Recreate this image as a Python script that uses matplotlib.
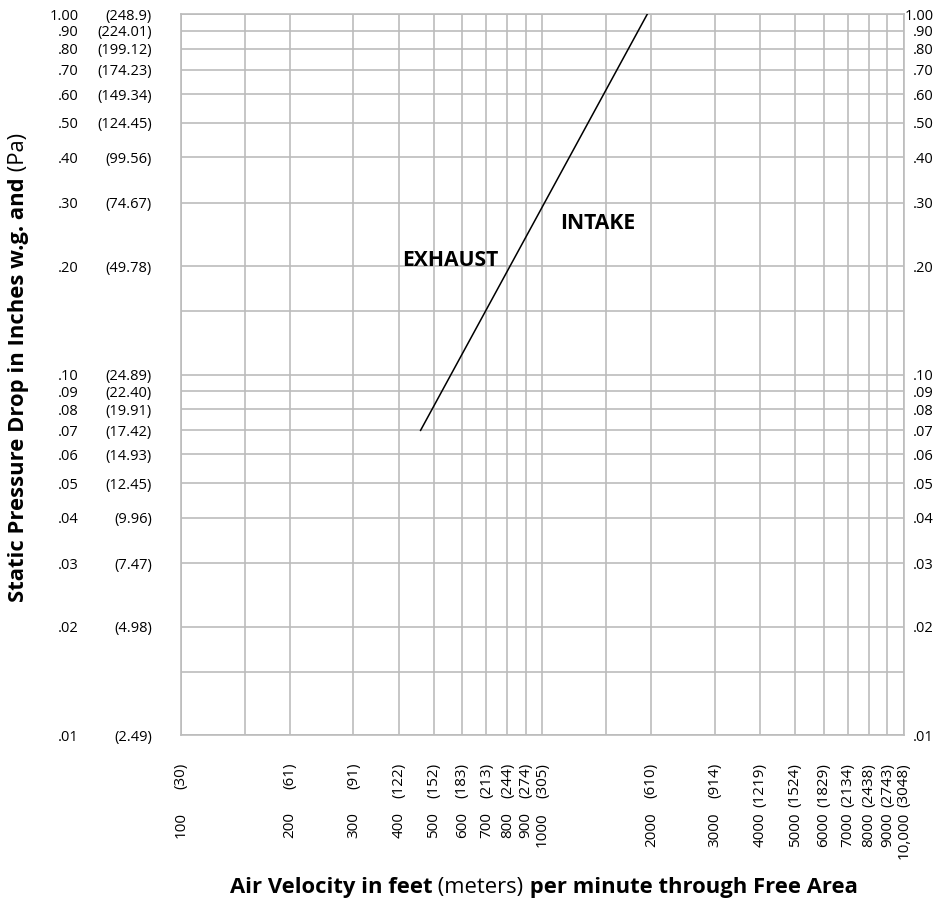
import matplotlib.pyplot as plt

plt.rcParams['font.family'] = ['Open Sans', 'DejaVu Sans']

# grid values (ft/min and in. w.g.)
x_grid = [100, 150, 200, 300, 400, 500, 600, 700, 800, 900, 1000,
          1500, 2000, 3000, 4000, 5000, 6000, 7000, 8000, 9000, 10000]
y_grid = [0.01, 0.015, 0.02, 0.03, 0.04, 0.05, 0.06, 0.07, 0.08, 0.09, 0.10,
          0.15, 0.20, 0.30, 0.40, 0.50, 0.60, 0.70, 0.80, 0.90, 1.00]

# labelled ticks
x_ticks = [100, 200, 300, 400, 500, 600, 700, 800, 900, 1000,
           2000, 3000, 4000, 5000, 6000, 7000, 8000, 9000, 10000]
x_labels = ['100', '200', '300', '400', '500', '600', '700', '800', '900', '1000',
            '2000', '3000', '4000', '5000', '6000', '7000', '8000', '9000', '10,000']
x_metric = ['(30)', '(61)', '(91)', '(122)', '(152)', '(183)', '(213)', '(244)', '(274)',
            '(305)', '(610)', '(914)', '(1219)', '(1524)', '(1829)', '(2134)', '(2438)',
            '(2743)', '(3048)']

y_ticks = [1.00, 0.90, 0.80, 0.70, 0.60, 0.50, 0.40, 0.30, 0.20,
           0.10, 0.09, 0.08, 0.07, 0.06, 0.05, 0.04, 0.03, 0.02, 0.01]
y_labels = ['1.00', '.90', '.80', '.70', '.60', '.50', '.40', '.30', '.20',
            '.10', '.09', '.08', '.07', '.06', '.05', '.04', '.03', '.02', '.01']
y_pa = ['(248.9)', '(224.01)', '(199.12)', '(174.23)', '(149.34)', '(124.45)', '(99.56)',
        '(74.67)', '(49.78)', '(24.89)', '(22.40)', '(19.91)', '(17.42)', '(14.93)',
        '(12.45)', '(9.96)', '(7.47)', '(4.98)', '(2.49)']

# pressure drop curve
velocity = [460, 1950]
pressure = [0.07, 1.00]

grid_color = '#bcbcbc'

fig = plt.figure(figsize=(9.48, 8.99), dpi=100)
ax = fig.add_axes([0.1909, 0.1824, 0.7627, 0.8020])
ax.set_xscale('log')
ax.set_yscale('log')
ax.set_xlim(100, 10000)
ax.set_ylim(0.01, 1.0)

for xv in x_grid:
    ax.axvline(xv, color=grid_color, lw=1.2, zorder=1)
for yv in y_grid:
    ax.axhline(yv, color=grid_color, lw=1.2, zorder=1)

ax.plot(velocity, pressure, color='black', lw=1.1, zorder=3)

ax.set_xticks([])
ax.set_yticks([])
ax.minorticks_off()
for s in ax.spines.values():
    s.set_color(grid_color)
    s.set_linewidth(1.2)

fs = 10.5
ytr = ax.get_yaxis_transform()
for yv, lab, pa in zip(y_ticks, y_labels, y_pa):
    ax.text(-0.141, yv, lab, transform=ytr, ha='right', va='center_baseline', fontsize=fs)
    ax.text(-0.040, yv, pa, transform=ytr, ha='right', va='center_baseline', fontsize=fs)
    ax.text(1.0415, yv, lab, transform=ytr, ha='right', va='center_baseline', fontsize=fs)

xtr = ax.get_xaxis_transform()
for xv, lab, m in zip(x_ticks, x_labels, x_metric):
    ax.text(xv, -0.0388, m, transform=xtr, rotation=90, ha='center', va='top',
            fontsize=11)
    ax.text(xv, -0.1068, lab, transform=xtr, rotation=90, ha='center', va='top',
            fontsize=11)

ax.text(1122, 0.2533, 'INTAKE', fontsize=15.2, fontweight='bold', va='baseline', zorder=4)
ax.text(410, 0.2, 'EXHAUST', fontsize=15.2, fontweight='bold', va='baseline', zorder=4)

# x axis title, mixed weights
lfs = 15.8
t1 = fig.text(0.2426, 0.0067, 'Air Velocity in feet', fontsize=lfs,
              fontweight='bold', va='baseline')
a2 = ax.annotate(' (meters)', xy=(1, 0), xycoords=t1, va='bottom', fontsize=lfs)
a3 = ax.annotate(' per minute through Free Area', xy=(1, 0), xycoords=a2, va='bottom',
                 fontsize=lfs, fontweight='bold')

# y axis title, mixed weights
b1 = fig.text(0.008, (899 - 602) / 899, 'Static Pressure Drop in Inches w.g. and',
              rotation=90, fontsize=lfs, fontweight='bold', ha='left', va='bottom')
b2 = ax.annotate(' (Pa)', xy=(0, 1), xycoords=b1, rotation=90, ha='left', va='bottom',
                 fontsize=lfs)

fig.savefig('out.png', dpi=100)
